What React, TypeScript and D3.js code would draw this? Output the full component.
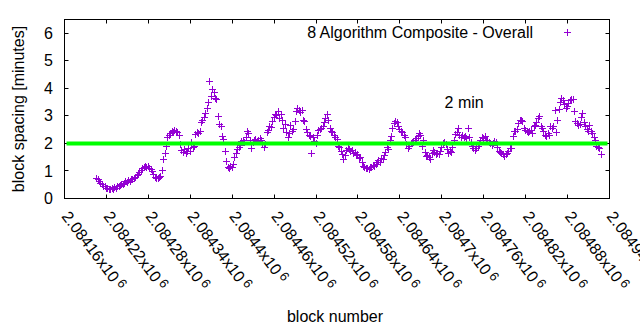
import React from 'react';
import * as d3 from 'd3';

// Block spacing (minutes), one value every 2 blocks starting at startBlock
const startBlock = 2084206;
const blockStep = 2;
const spacing = [
  0.74, 0.68, 0.63, 0.55, 0.52, 0.45, 0.43, 0.38, 0.36, 0.33,
  0.31, 0.36, 0.34, 0.40, 0.37, 0.44, 0.42, 0.48, 0.51, 0.50,
  0.56, 0.60, 0.58, 0.65, 0.63, 0.70, 0.68, 0.74, 0.78, 0.82,
  0.88, 0.95, 1.02, 1.08, 1.12, 1.15, 1.13, 1.16, 1.10, 1.06,
  0.98, 0.88, 0.78, 0.74, 0.72, 0.76, 0.80, 1.00, 1.42, 1.65,
  1.88, 2.20, 2.30, 2.35, 2.42, 2.38, 2.47, 2.44, 2.40, 2.30,
  1.95, 1.75, 1.68, 1.78, 1.65, 1.72, 1.80, 1.70, 2.05, 1.85,
  1.90, 2.32, 2.40, 2.36, 2.45, 2.75, 2.84, 2.95, 3.10, 3.28,
  3.50, 4.25, 3.70, 3.95, 3.85, 3.62, 3.58, 2.97, 2.68, 2.63,
  2.25, 2.15, 1.70, 1.35, 1.12, 1.10, 1.18, 1.12, 1.22, 1.50,
  1.62, 1.78, 1.85, 1.92, 2.08, 2.12, 2.05, 2.22, 2.45, 2.35,
  2.10, 1.82, 2.05, 2.12, 2.15, 2.08, 2.12, 2.18, 2.10, 1.95,
  1.85, 1.95, 2.38, 2.48, 2.62, 2.58, 2.78, 2.95, 3.05, 3.02,
  3.15, 2.92, 3.05, 2.85, 2.55, 2.70, 2.40, 2.22, 2.35, 2.65,
  2.45, 2.52, 2.80, 3.15, 3.28, 3.20, 3.12, 3.18, 2.85, 2.80,
  2.52, 2.38, 2.30, 2.25, 1.62, 2.22, 2.08, 1.98, 2.28, 2.48,
  2.50, 2.55, 2.62, 2.75, 2.92, 3.05, 2.85, 2.55, 2.45, 2.40,
  2.30, 2.22, 2.15, 1.88, 1.85, 1.72, 1.60, 1.42, 1.55, 1.75,
  1.82, 1.78, 1.70, 1.75, 1.62, 1.66, 1.55, 1.58, 1.45, 1.50,
  1.30, 1.18, 1.12, 1.08, 1.10, 1.05, 1.14, 1.12, 1.20, 1.18,
  1.25, 1.30, 1.38, 1.32, 1.45, 1.40, 1.55, 1.68, 1.85, 1.78,
  2.10, 2.25, 2.55, 2.72, 2.80, 2.75, 2.62, 2.50, 2.42, 2.38,
  2.30, 2.20, 1.95, 1.82, 1.88, 1.98, 2.02, 2.05, 2.12, 2.18,
  2.25, 2.35, 2.28, 1.88, 2.12, 1.68, 1.52, 1.55, 1.48, 1.42,
  1.62, 1.75, 1.68, 1.60, 1.65, 1.58, 1.72, 1.85, 2.00, 2.05,
  1.95, 1.78, 1.65, 1.70, 1.68, 1.85, 2.10, 2.32, 2.38, 2.55,
  2.30, 2.22, 2.28, 2.20, 2.25, 2.18, 2.55, 2.22, 2.05, 1.88,
  1.82, 1.75, 1.80, 1.88, 1.95, 2.10, 2.22, 2.18, 2.25, 2.12,
  2.10, 2.05, 1.98, 1.92, 2.00, 2.08, 2.02, 1.85, 1.72, 1.68,
  1.65, 1.58, 1.52, 1.60, 1.65, 1.72, 1.82, 1.80, 2.25, 2.45,
  2.42, 2.50, 2.72, 2.85, 2.82, 2.78, 2.55, 2.48, 2.45, 2.40,
  2.42, 2.48, 2.35, 2.62, 2.65, 2.75, 2.92, 2.98, 2.62, 2.55,
  2.45, 2.30, 2.25, 2.35, 2.28, 2.60, 2.55, 2.62, 3.20, 2.38,
  2.85, 3.25, 3.48, 3.62, 3.55, 3.40, 3.28, 3.35, 3.45, 3.55,
  3.60, 3.58, 3.15, 2.78, 2.72, 2.65, 2.70, 2.95, 3.08, 2.75,
  2.62, 2.50, 2.45, 2.65, 2.42, 2.35, 2.22, 2.10, 1.88, 1.85,
  1.82, 1.58,
];

const xDomain = [2084160, 2084940];
const yDomain = [0, 6.5];
const xTicks = [
  2084160, 2084220, 2084280, 2084340, 2084400, 2084460, 2084520,
  2084580, 2084640, 2084700, 2084760, 2084820, 2084880, 2084940,
];
const xTickLabels = [
  '2.08416', '2.08422', '2.08428', '2.08434', '2.0844', '2.08446', '2.08452',
  '2.08458', '2.08464', '2.0847', '2.08476', '2.08482', '2.08488', '2.08494',
];
const yTicks = [0, 1, 2, 3, 4, 5, 6];
const targetMinutes = 2;
const seriesTitle = '8 Algorithm Composite - Overall';
const annotationText = '2 min';
const annotationAt = [2084732, 3.5];
const xTitle = 'block number';
const yTitle = 'block spacing [minutes]';

export default function App() {
  const W = 640;
  const H = 330;
  const x = d3.scaleLinear().domain(xDomain).range([64.5, 609.5]);
  const y = d3.scaleLinear().domain(yDomain).range([198.5, 19.5]);
  const [x0, x1] = x.range();
  const [yb, yt] = y.range();
  const font = "'Liberation Sans', Arial, sans-serif";
  const purple = '#9400d3';
  const tickLen = 4;
  const half = 3.5;

  const plusPath = (cx: number, cy: number) =>
    `M${cx - half},${cy}H${cx + half}M${cx},${cy - half}V${cy + half}`;

  const pointsPath = spacing
    .map((v, i) => {
      const cx = Math.floor(x(startBlock + i * blockStep)) + 0.5;
      const cy = Math.floor(y(v)) + 0.5;
      return plusPath(cx, cy);
    })
    .join('');

  const lineW = 4;
  const gy = y(targetMinutes);

  return (
    <svg
      width={W}
      height={H}
      style={{ position: 'absolute', left: 0, top: 0, background: '#fff' }}
      fontFamily={font}
      fontSize={16}
    >
      <rect x={0} y={0} width={W} height={H} fill="#fff" />
      {/* ticks */}
      <g stroke="#000" strokeWidth={1}>
        {yTicks.map((t) => (
          <g key={'yt' + t}>
            <line x1={x0} x2={x0 + tickLen} y1={Math.floor(y(t)) + 0.5} y2={Math.floor(y(t)) + 0.5} />
            <line x1={x1} x2={x1 - tickLen} y1={Math.floor(y(t)) + 0.5} y2={Math.floor(y(t)) + 0.5} />
          </g>
        ))}
        {xTicks.map((t) => (
          <g key={'xt' + t}>
            <line x1={Math.floor(x(t)) + 0.5} x2={Math.floor(x(t)) + 0.5} y1={yb} y2={yb - tickLen} />
            <line x1={Math.floor(x(t)) + 0.5} x2={Math.floor(x(t)) + 0.5} y1={yt} y2={yt + tickLen} />
          </g>
        ))}
      </g>
      {/* y tick labels */}
      {yTicks.map((t) => (
        <text key={'yl' + t} x={53} y={y(t)} dy="0.35em" textAnchor="end" fill="#000">
          {t}
        </text>
      ))}
      {/* x tick labels */}
      {xTicks.map((t, i) => (
        <text
          key={'xl' + t}
          transform={`translate(${x(t) - 3.4},${yb + 18}) rotate(53)`}
          fill="#000"
        >
          {xTickLabels[i] + 'x10'}
          <tspan dx={3} dy={-4} fontSize={13}>6</tspan>
        </text>
      ))}
      {/* points */}
      <path d={pointsPath} stroke={purple} strokeWidth={1} fill="none" />
      {/* target line */}
      <line
        x1={x0 + lineW / 2}
        x2={x1 - lineW / 2}
        y1={gy}
        y2={gy}
        stroke="#00ff00"
        strokeWidth={lineW}
      />
      {/* frame */}
      <rect x={x0} y={yt} width={x1 - x0} height={yb - yt} fill="none" stroke="#000" strokeWidth={1} />
      {/* legend */}
      <text x={533} y={37.5} textAnchor="end" fill="#000">{seriesTitle}</text>
      <path d={plusPath(567.5, 32.5)} stroke={purple} strokeWidth={1} fill="none" />
      {/* annotation */}
      <text
        x={x(annotationAt[0])}
        y={y(annotationAt[1])}
        dy="0.35em"
        textAnchor="middle"
        fill="#000"
      >
        {annotationText}
      </text>
      {/* axis titles */}
      <text x={(x0 + x1) / 2 - 2} y={322} textAnchor="middle" fill="#000">{xTitle}</text>
      <text
        transform={`translate(24,${(yt + yb) / 2}) rotate(-90)`}
        textAnchor="middle"
        fill="#000"
      >
        {yTitle}
      </text>
    </svg>
  );
}
